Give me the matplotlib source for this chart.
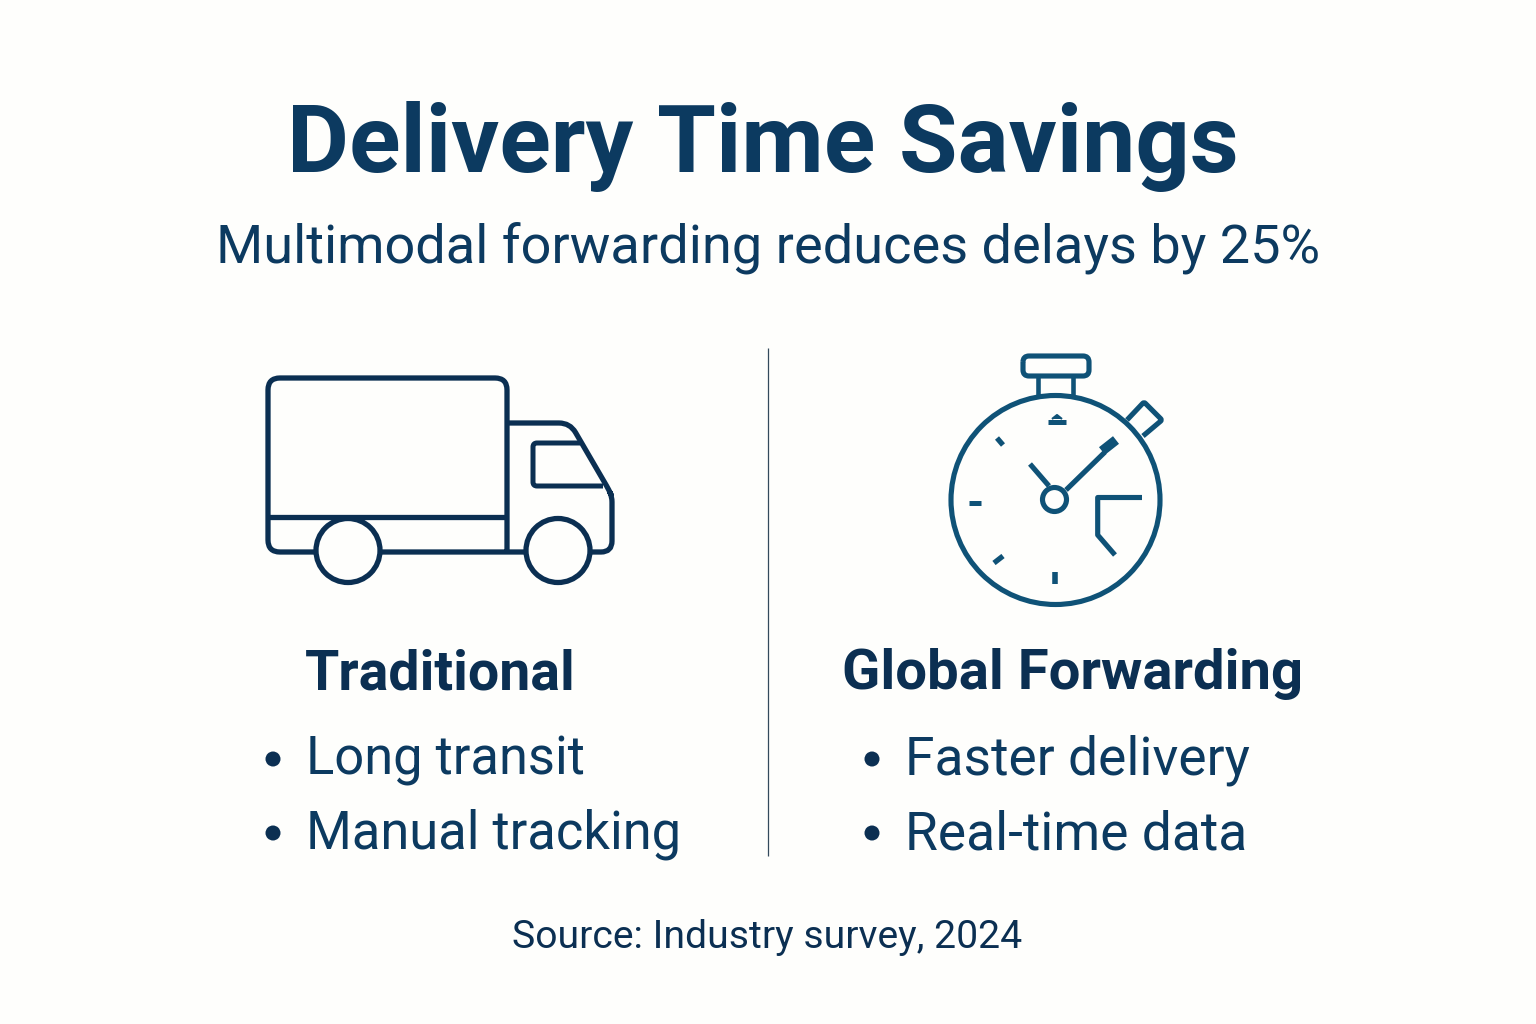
"""Delivery time savings infographic: truck vs stopwatch comparison."""
import matplotlib.pyplot as plt
from matplotlib.path import Path
from matplotlib.patches import Circle, PathPatch

TITLE = "Delivery Time Savings"
SUBTITLE = "Multimodal forwarding reduces delays by 25%"
SOURCE = "Source: Industry survey, 2024"
LEFT_HEAD = "Traditional"
RIGHT_HEAD = "Global Forwarding"
LEFT_ITEMS = ["Long transit", "Manual tracking"]
RIGHT_ITEMS = ["Faster delivery", "Real-time data"]

NAVY = "#0c3a60"
DARK = "#0b2f52"
TEAL = "#0f5277"
BG = "#fefefc"

plt.rcParams["font.family"] = ["Roboto", "DejaVu Sans"]

fig = plt.figure(figsize=(15.36, 10.24), dpi=100, facecolor=BG)
ax = fig.add_axes([0, 0, 1, 1])
ax.set_xlim(0, 1536)
ax.set_ylim(1024, 0)
ax.axis("off")


def stroke(pts, radii=None, color=DARK, lw=3.8, closed=False, fc="none", z=2):
    # polyline with optional rounded corners (radius per vertex)
    radii = radii or [0] * len(pts)
    n = len(pts)
    verts, codes = [], []
    for i, (p, r) in enumerate(zip(pts, radii)):
        inner = closed or 0 < i < n - 1
        if r and inner:
            a = pts[i - 1]
            b = pts[(i + 1) % n]
            la = ((a[0] - p[0]) ** 2 + (a[1] - p[1]) ** 2) ** 0.5
            lb = ((b[0] - p[0]) ** 2 + (b[1] - p[1]) ** 2) ** 0.5
            start = (p[0] + (a[0] - p[0]) * r / la, p[1] + (a[1] - p[1]) * r / la)
            end = (p[0] + (b[0] - p[0]) * r / lb, p[1] + (b[1] - p[1]) * r / lb)
            verts += [start, p, end]
            codes += [Path.LINETO, Path.CURVE3, Path.CURVE3]
        else:
            verts.append(p)
            codes.append(Path.LINETO)
    codes[0] = Path.MOVETO
    if closed:
        verts.append(verts[0])
        codes.append(Path.LINETO)
    ax.add_patch(PathPatch(Path(verts, codes), fc=fc, ec=color, lw=lw, zorder=z,
                           capstyle="butt", joinstyle="round"))


# header
ax.text(763, 172, TITLE, ha="center", va="baseline", fontsize=68.6, fontweight="bold", color=NAVY)
ax.text(768, 263, SUBTITLE, ha="center", va="baseline", fontsize=39, color=NAVY)

# divider
stroke([(767.5, 348), (767.5, 856)], color="#33495c", lw=0.9)

# truck
stroke([(507, 552), (268, 552), (268, 378), (507, 378), (507, 552)], [0, 12, 12, 12, 0])
stroke([(268, 517), (507, 517)])
stroke([(507, 423), (570, 423), (609, 490), (612, 497), (612, 552), (507, 552)],
       [0, 11, 5, 5, 11, 0])
stroke([(580, 443), (533, 443), (533, 486), (603, 486)], [0, 4, 4, 0], lw=3.6)
for cx in (348, 558):
    ax.add_patch(Circle((cx, 550.5), 32, fc=BG, ec=DARK, lw=3.8, zorder=3))

# stopwatch
SW = dict(color=TEAL, lw=3.7)
ax.add_patch(Circle((1055.5, 500), 104.5, fc="none", ec=TEAL, lw=3.7))
stroke([(1023, 356), (1089, 356), (1089, 376), (1023, 376)], [6, 6, 6, 6], closed=True, **SW)
stroke([(1038, 376), (1038, 397)], color=TEAL, lw=3.3)
stroke([(1073, 376), (1073, 397)], color=TEAL, lw=3.3)
stroke([(1127, 420), (1144, 402), (1162, 420), (1143, 436)], [0, 2, 2, 0], **SW)
# tick marks
stroke([(1048, 421.5), (1066, 421.5)], color=TEAL, lw=3.6)
stroke([(1052, 419), (1057, 415), (1062, 419)], color=TEAL, lw=1.5, fc=TEAL)
stroke([(1055, 572), (1055, 584)], color=TEAL, lw=4)
stroke([(969, 503), (981, 503)], color=TEAL, lw=3.6)
stroke([(997, 438), (1003, 445)], color=TEAL, lw=3.8)
stroke([(994, 563), (1003, 556)], color=TEAL, lw=3.8)
# hands
stroke([(1066, 490), (1105, 452)], **SW)
stroke([(1102, 451), (1116, 440)], color=TEAL, lw=7)
stroke([(1030, 464), (1049, 486)], **SW)
ax.add_patch(Circle((1054.5, 499.5), 12, fc=BG, ec=TEAL, lw=3.7, zorder=3))
stroke([(1142, 497.5), (1097.7, 497.5), (1097.7, 535), (1115, 555)], color=TEAL, lw=3.7)

# columns
ax.text(440, 689, LEFT_HEAD, ha="center", va="baseline", fontsize=40, fontweight="bold", color=DARK)
ax.text(1072, 689, RIGHT_HEAD, ha="center", va="baseline", fontsize=40.5, fontweight="bold", color=DARK)
ys = [775, 849]
for y, label in zip(ys, LEFT_ITEMS):
    ax.add_patch(Circle((273, y - 16), 7.5, fc=DARK, ec="none"))
    ax.text(305.5, y, label, ha="left", va="baseline", fontsize=37.8, color=NAVY)
for y, label in zip(ys, RIGHT_ITEMS):
    ax.add_patch(Circle((872, y - 16), 7.5, fc=DARK, ec="none"))
    ax.text(905, y, label, ha="left", va="baseline", fontsize=38.4, color=NAVY)

ax.text(767.5, 948, SOURCE, ha="center", va="baseline", fontsize=28.2, color=DARK)

fig.savefig("out.png", dpi=100, facecolor=BG)
